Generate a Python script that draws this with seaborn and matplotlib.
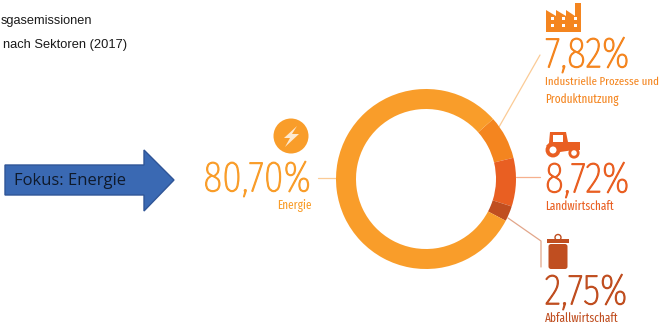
import matplotlib
matplotlib.use('Agg')
import matplotlib.pyplot as plt
import matplotlib.patheffects as pe
import seaborn as sns
from matplotlib import font_manager as fm
from matplotlib.patches import Circle, Polygon, Rectangle, FancyBboxPatch

# Daten
sektoren = ['Industrielle Prozesse und', 'Produktnutzung', 'Landwirtschaft', 'Abfallwirtschaft', 'Energie']
anteile = [7.82, 8.72, 2.75, 80.70]
anteil_labels = ['7,82%', '8,72%', '2,75%', '80,70%']
farben = sns.color_palette(['#F4851F', '#E95F22', '#C04E20', '#F99D2A'])

sns.set_theme(style='white')

# schmale Schrift suchen
installiert = {f.name for f in fm.fontManager.ttflist}
schmal = [n for n in ['Fira Sans Extra Condensed', 'Sofia Sans Extra Condensed', 'Saira Extra Condensed',
                      'Barlow Condensed', 'Open Sans Condensed', 'Roboto Condensed'] if n in installiert]
schmal = (schmal[:1] or ['Liberation Sans'])
plt.rcParams['font.family'] = schmal + ['Liberation Sans', 'DejaVu Sans']

fig = plt.figure(figsize=(6.6, 3.27), dpi=100)

# Zeichenflaeche in Pixeln
ax = fig.add_axes([0, 0, 1, 1])
ax.set_xlim(0, 660)
ax.set_ylim(327, 0)
ax.axis('off')

# Ring
ax_ring = fig.add_axes([(426 - 90) / 660, 1 - (179 + 90) / 327, 180 / 660, 180 / 327])
ax_ring.pie(anteile, colors=farben, startangle=41.8, counterclock=False,
            radius=1, wedgeprops={'width': 20 / 90, 'linewidth': 0})
ax_ring.set_xlim(-1, 1)
ax_ring.set_ylim(-1, 1)

# Kopfzeilen
ax.text(1, 21, 'sgasemissionen', family=['Liberation Sans'], fontsize=9.2, color='#1a1a1a', va='center')
ax.text(3, 45, 'nach Sektoren (2017)', family=['Liberation Sans'], fontsize=9.3, color='#1a1a1a', va='center')

# Pfeil
ax.add_patch(Polygon([(5, 165), (144, 165), (144, 150), (174, 180), (144, 211), (144, 195), (5, 195)],
                     closed=True, facecolor='#3A69B3', edgecolor='#2F5597', linewidth=1))
ax.text(14, 181, 'Fokus: Energie', family=['Open Sans'], fontsize=12, color='#0F1A2B', va='center')

# Prozentwerte
klein = dict(fontsize=8.8, weight='normal', va='center')


def prozent(x, y, text, farbe, **kw):
    t = ax.text(x, y, text, color=farbe, fontsize=31, weight='light', va='center', **kw)
    t.set_path_effects([pe.withStroke(linewidth=0.9, foreground=farbe)])


prozent(311, 179, anteil_labels[3], farben[3], ha='right')
ax.text(312, 206, sektoren[4], color=farben[3], ha='right', **klein)

prozent(545, 55, anteil_labels[0], farben[0])
ax.text(545, 82, sektoren[0], color=farben[0], va='center', fontsize=8.5)
ax.text(545, 100, sektoren[1], color=farben[0], **klein)

prozent(545, 180, anteil_labels[1], farben[1])
ax.text(545, 206, sektoren[2], color=farben[1], **klein)

prozent(545, 292, anteil_labels[2], farben[2])
ax.text(545, 318, sektoren[3], color=farben[2], **klein)

# Hinweislinien
ax.plot([318, 336], [178, 178], color='#FBCB96', lw=0.9)
ax.plot([499, 540], [127, 55], color='#FBCB96', lw=0.9)
ax.plot([516, 540], [177, 177], color='#F6B08E', lw=0.9)
ax.plot([508, 541, 541], [218, 241, 267], color='#E2A68A', lw=0.9)

# Blitz
ax.add_patch(Circle((291, 136), 17.5, facecolor=farben[3], edgecolor='none'))
ax.add_patch(Polygon([(297, 126), (284, 138), (290, 138), (285, 147), (299, 134), (292, 134)],
                     closed=True, facecolor='#FDE9D0', edgecolor='none'))

# Fabrik
ax.add_patch(Polygon([(546, 32), (546, 10), (556, 16), (556, 10), (566, 16), (566, 10), (575, 16),
                      (575, 3), (581, 3), (581, 32)], closed=True, facecolor=farben[0], edgecolor='none'))
for fx in [552, 563, 575]:
    for fy in [18.5, 25]:
        ax.add_patch(Rectangle((fx - 1.5, fy - 1.5), 3, 3, facecolor='white', edgecolor='none'))

# Traktor
ax.add_patch(Polygon([(550, 132), (566, 132), (568, 142), (580, 142), (580, 150), (574, 150),
                      (560, 152), (546, 146), (549, 143)], closed=True, facecolor=farben[1], edgecolor='none'))
ax.add_patch(Rectangle((552.5, 135), 10.5, 7, facecolor='white', edgecolor='none'))
ax.add_patch(Circle((553, 150), 5.5, facecolor='white', edgecolor=farben[1], linewidth=2.8))
ax.add_patch(Circle((574, 153), 4.2, facecolor='white', edgecolor=farben[1], linewidth=2))

# Muelleimer
ax.add_patch(FancyBboxPatch((548.5, 244), 19, 25, boxstyle='round,pad=0,rounding_size=2.5',
                            facecolor=farben[2], edgecolor='none'))
ax.add_patch(Rectangle((547, 238.5), 22, 4, facecolor=farben[2], edgecolor='none'))
ax.add_patch(Circle((558, 237.5), 3, facecolor='none', edgecolor=farben[2], linewidth=1))

fig.savefig('out.png', dpi=100, facecolor='white')
